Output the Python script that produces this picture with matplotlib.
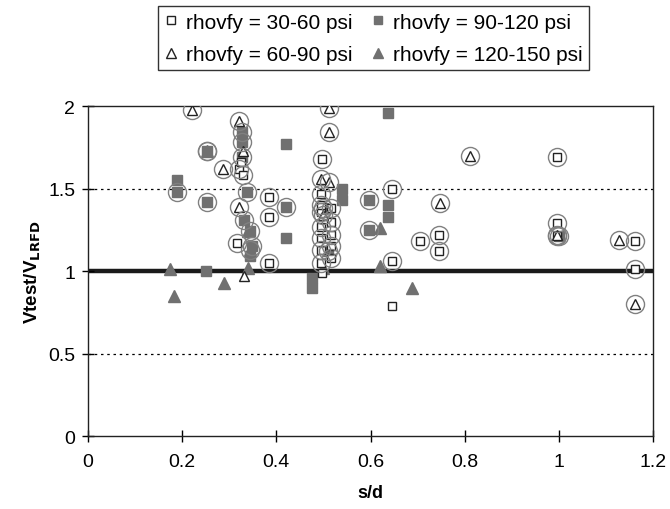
import matplotlib.pyplot as plt
import numpy as np

plt.rcParams['font.family'] = ['Liberation Sans', 'DejaVu Sans']

# rhovfy = 30-60 psi (open squares)
sq_open_x = [0.321, 0.317, 0.384, 0.384, 0.384, 0.497, 0.494, 0.645, 0.706, 0.746, 0.746,
             0.645, 0.995, 0.995, 0.995, 1.162, 1.162, 0.645, 0.497,
             0.494, 0.494, 0.494, 0.494, 0.494, 0.494, 0.516, 0.516, 0.516, 0.516, 0.516,
             0.325, 0.330]
sq_open_y = [1.62, 1.17, 1.45, 1.33, 1.05, 1.68, 1.47, 1.50, 1.18, 1.22, 1.12,
             1.06, 1.69, 1.29, 1.21, 1.18, 1.01, 0.79, 0.99,
             1.36, 1.27, 1.20, 1.13, 1.05, 1.40, 1.38, 1.30, 1.22, 1.15, 1.08,
             1.66, 1.58]
sq_open_c = [1, 1, 1, 1, 1, 1, 1, 1, 1, 1, 1,
             1, 1, 1, 1, 1, 1, 0, 0,
             1, 1, 1, 1, 1, 1, 1, 1, 1, 1, 1,
             0, 1]

# rhovfy = 60-90 psi (open triangles)
tri_open_x = [0.222, 0.321, 0.287, 0.321, 0.332, 0.511, 0.511, 0.494, 0.511, 0.748, 0.811,
              1.128, 0.995, 1.162, 0.330, 0.500]
tri_open_y = [1.975, 1.91, 1.62, 1.39, 0.97, 1.99, 1.84, 1.56, 1.54, 1.41, 1.70,
              1.19, 1.22, 0.80, 1.73, 1.34]
tri_open_c = [1, 1, 1, 1, 0, 1, 1, 1, 1, 1, 1,
              1, 1, 1, 0, 1]

# rhovfy = 90-120 psi (filled squares)
sq_fill_x = [0.190, 0.190, 0.254, 0.254, 0.328, 0.328, 0.328, 0.338, 0.420, 0.420, 0.420,
             0.332, 0.349, 0.251, 0.475, 0.475, 0.539, 0.539, 0.596, 0.638, 0.638, 0.596,
             0.638, 0.345, 0.345, 0.500, 0.510, 1.000]
sq_fill_y = [1.48, 1.55, 1.42, 1.73, 1.84, 1.78, 1.69, 1.48, 1.77, 1.39, 1.20,
             1.31, 1.15, 1.00, 0.90, 0.96, 1.43, 1.50, 1.43, 1.33, 1.40, 1.25,
             1.96, 1.24, 1.09, 1.38, 1.12, 1.21]
sq_fill_c = [1, 0, 1, 1, 1, 1, 1, 1, 0, 1, 0,
             1, 1, 0, 0, 0, 0, 0, 1, 0, 0, 1,
             0, 1, 0, 1, 1, 1]

# rhovfy = 120-150 psi (filled triangles)
tri_fill_x = [0.175, 0.184, 0.290, 0.340, 0.621, 0.621, 0.689, 0.254, 0.340, 0.345, 0.500]
tri_fill_y = [1.01, 0.85, 0.93, 1.02, 1.03, 1.26, 0.90, 1.73, 1.24, 1.13, 1.02]
tri_fill_c = [0, 0, 0, 0, 0, 0, 0, 1, 0, 1, 0]

grey = '#707070'

fig = plt.figure(figsize=(6.7, 5.1), dpi=100)
ax = fig.add_axes([0.131, 0.143, 0.844, 0.647])

ax.axhline(1.0, color='#1a1a1a', lw=3.2, zorder=1)
for yy in (0.5, 1.5):
    ax.axhline(yy, color='black', lw=0.9, ls=(0, (2, 3)), zorder=1)

# circled points
cx, cy = [], []
for xs, ys, cs in ((sq_open_x, sq_open_y, sq_open_c), (tri_open_x, tri_open_y, tri_open_c),
                   (sq_fill_x, sq_fill_y, sq_fill_c), (tri_fill_x, tri_fill_y, tri_fill_c)):
    for x, y, c in zip(xs, ys, cs):
        if c:
            cx.append(x)
            cy.append(y)

ax.plot(sq_fill_x, sq_fill_y, 's', ms=7, mfc=grey, mec=grey, ls='none', zorder=3)
ax.plot(tri_fill_x, tri_fill_y, '^', ms=8, mfc=grey, mec=grey, ls='none', zorder=3)
ax.plot(sq_open_x, sq_open_y, 's', ms=6, mfc='white', mec='#222222', mew=1.0, ls='none', zorder=4)
ax.plot(tri_open_x, tri_open_y, '^', ms=7.5, mfc='white', mec='#222222', mew=1.0, ls='none', zorder=4)
ax.plot(cx, cy, 'o', ms=13, mfc='none', mec='#808080', mew=1.0, ls='none', zorder=5)

h1, = ax.plot([], [], 's', ms=5.5, mfc='white', mec='#222222', mew=1.0, ls='none')
h2, = ax.plot([], [], '^', ms=6.5, mfc='white', mec='#222222', mew=1.0, ls='none')
h3, = ax.plot([], [], 's', ms=6, mfc=grey, mec=grey, ls='none')
h4, = ax.plot([], [], '^', ms=7, mfc=grey, mec=grey, ls='none')

ax.set_xlim(0, 1.2)
ax.set_ylim(0, 2)
ax.set_xticks([0, 0.2, 0.4, 0.6, 0.8, 1, 1.2])
ax.set_xticklabels(['0', '0.2', '0.4', '0.6', '0.8', '1', '1.2'])
ax.set_yticks([0, 0.5, 1, 1.5, 2])
ax.set_yticklabels(['0', '0.5', '1', '1.5', '2'])
ax.tick_params(direction='inout', length=8, width=1, labelsize=14)
ax.tick_params(axis='x', pad=8)
ax.tick_params(axis='y', pad=5)
for s in ax.spines.values():
    s.set_linewidth(1)
    s.set_color('#222222')

ax.set_xlabel('s/d', fontsize=13, fontweight='bold', labelpad=10)
ax.set_ylabel('Vtest/V$_{\\mathbf{LRFD}}$', fontsize=13.5, fontweight='bold', labelpad=4)

leg = fig.legend([h1, h2, h3, h4],
                 ['rhovfy = 30-60 psi', 'rhovfy = 60-90 psi', 'rhovfy = 90-120 psi', 'rhovfy = 120-150 psi'],
                 ncol=2, loc='upper center', bbox_to_anchor=(0.557, 1.006), fontsize=15,
                 frameon=True, fancybox=False, edgecolor='black', handlelength=0.7,
                 handletextpad=0.35, columnspacing=0.9, borderpad=0.3, labelspacing=0.65)
leg.get_frame().set_linewidth(1)

fig.savefig('out.png', dpi=100)
